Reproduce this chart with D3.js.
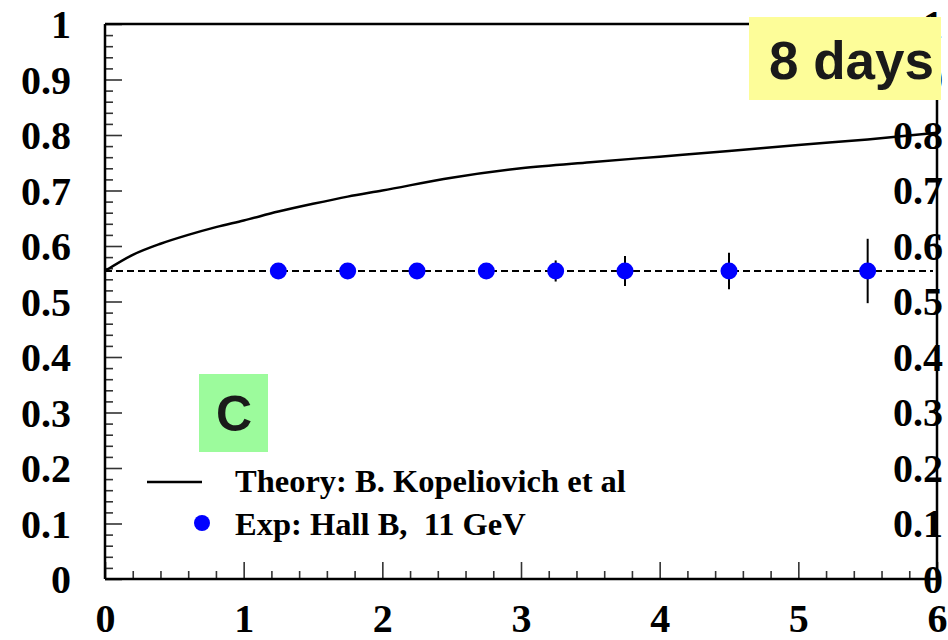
<!DOCTYPE html>
<html>
<head>
<meta charset="utf-8">
<script src="https://cdn.jsdelivr.net/npm/d3@7"></script>
<style>
  html, body { margin: 0; padding: 0; background: #fff; }
  svg { display: block; }
</style>
</head>
<body>
<svg id="chart" width="948" height="640"></svg>
<script>
// Axis ticks and labels
const xMajor = [0, 1, 2, 3, 4, 5, 6];
const xMinorStep = 0.2;
const yMajor = [0, 0.1, 0.2, 0.3, 0.4, 0.5, 0.6, 0.7, 0.8, 0.9, 1];
const yLabels = ["0", "0.1", "0.2", "0.3", "0.4", "0.5", "0.6", "0.7", "0.8", "0.9", "1"];
const yMinorStep = 0.02;

// Theory curve (B. Kopeliovich et al)
const theoryX = [0, 0.2, 0.4, 0.6, 0.8, 1.0, 1.25, 1.5, 1.75, 2.0, 2.5, 3.0, 3.5, 4.0, 4.5, 5.0, 5.5, 6.0];
const theoryY = [0.555, 0.584, 0.604, 0.620, 0.634, 0.646, 0.662, 0.676, 0.689, 0.700, 0.723, 0.740, 0.751, 0.761, 0.771, 0.782, 0.792, 0.804];

// Projected measurements, Hall B at 11 GeV
const expX = [1.25, 1.75, 2.25, 2.75, 3.25, 3.75, 4.5, 5.5];
const expY = [0.555, 0.555, 0.555, 0.555, 0.555, 0.555, 0.555, 0.555];
const expErr = [0.006, 0.008, 0.010, 0.013, 0.019, 0.027, 0.033, 0.058];

// Reference level drawn dashed
const refLevel = 0.555;

const legendLabels = ["Theory: B. Kopeliovich et al", "Exp: Hall B,  11 GeV"];
const tagText = "8 days";
const panelText = "C";

(function draw() {
  const svg = d3.select("#chart");
  const plotLeft = 105, plotRight = 937, plotTop = 24, plotBottom = 579;

  const x = d3.scaleLinear().domain([0, 6]).range([plotLeft, plotRight]);
  const y = d3.scaleLinear().domain([0, 1]).range([plotBottom, plotTop]);

  const serif = "'Liberation Serif', 'Times New Roman', serif";
  const sans = "'Liberation Sans', Arial, sans-serif";

  const xMinor = d3.range(0, 6 + 1e-9, xMinorStep).map(v => +v.toFixed(2))
    .filter(v => !xMajor.some(m => Math.abs(m - v) < 1e-6));
  const yMinor = d3.range(0, 1 + 1e-9, yMinorStep).map(v => +v.toFixed(2))
    .filter(v => !yMajor.some(m => Math.abs(m - v) < 1e-6));

  function styleTicks(g) {
    g.select(".domain").remove();
    g.selectAll(".tick line").attr("stroke", "#333").attr("stroke-width", 1.6);
  }

  // inward tick marks on the left axis
  svg.append("g").attr("transform", `translate(${plotLeft},0)`)
    .call(d3.axisLeft(y).tickValues(yMinor).tickSizeInner(-8).tickSizeOuter(0).tickFormat(""))
    .call(styleTicks);
  svg.append("g").attr("transform", `translate(${plotLeft},0)`)
    .call(d3.axisLeft(y).tickValues(yMajor).tickSizeInner(-17).tickSizeOuter(0).tickFormat(""))
    .call(styleTicks);

  // inward tick marks on the bottom axis
  svg.append("g").attr("transform", `translate(0,${plotBottom})`)
    .call(d3.axisBottom(x).tickValues(xMinor).tickSizeInner(-8).tickSizeOuter(0).tickFormat(""))
    .call(styleTicks);
  svg.append("g").attr("transform", `translate(0,${plotBottom})`)
    .call(d3.axisBottom(x).tickValues(xMajor).tickSizeInner(-17).tickSizeOuter(0).tickFormat(""))
    .call(styleTicks);

  // left labels
  const yLab = svg.append("g").attr("transform", `translate(${plotLeft},0)`)
    .call(d3.axisLeft(y).tickValues(yMajor).tickSize(0).tickPadding(34)
      .tickFormat((d, i) => yLabels[i]));
  yLab.select(".domain").remove();
  yLab.selectAll("text").attr("font-family", serif).attr("font-weight", "bold")
    .attr("font-size", 40).attr("fill", "#000").attr("dy", "0.34em");

  // bottom labels
  const xLab = svg.append("g").attr("transform", `translate(0,${plotBottom})`)
    .call(d3.axisBottom(x).tickValues(xMajor).tickSize(0).tickPadding(25).tickFormat(d3.format("d")));
  xLab.select(".domain").remove();
  xLab.selectAll("text").attr("font-family", serif).attr("font-weight", "bold")
    .attr("font-size", 40).attr("fill", "#000").attr("dy", "0.71em");

  // right-hand labels, repeating the left scale
  svg.append("g").selectAll("text").data(yMajor).join("text")
    .attr("x", 943).attr("y", d => y(d)).attr("dy", "0.34em")
    .attr("text-anchor", "end")
    .attr("font-family", serif).attr("font-weight", "bold").attr("font-size", 40)
    .attr("fill", "#000")
    .text((d, i) => yLabels[i]);

  // frame
  const frame = svg.append("g").attr("stroke", "#000").attr("stroke-width", 2.5).attr("fill", "none");
  frame.append("line").attr("x1", x(0)).attr("x2", x(0)).attr("y1", y(0)).attr("y2", y(1));
  frame.append("line").attr("x1", x(0)).attr("x2", x(6)).attr("y1", y(0)).attr("y2", y(0));
  frame.append("line").attr("x1", x(0)).attr("x2", x(6)).attr("y1", y(1)).attr("y2", y(1));
  frame.append("line").attr("x1", x(6)).attr("x2", x(6)).attr("y1", y(0)).attr("y2", y(1));

  // dashed reference level
  svg.append("line")
    .attr("x1", x(0)).attr("x2", x(6) - 4)
    .attr("y1", y(refLevel)).attr("y2", y(refLevel))
    .attr("stroke", "#000").attr("stroke-width", 2).attr("stroke-dasharray", "7,4");

  // theory curve
  const theory = theoryX.map((v, i) => [v, theoryY[i]]);
  svg.append("path").datum(theory)
    .attr("d", d3.line().x(d => x(d[0])).y(d => y(d[1])).curve(d3.curveMonotoneX))
    .attr("fill", "none").attr("stroke", "#000").attr("stroke-width", 2.5);

  // error bars and points
  const pts = expX.map((v, i) => ({ x: v, y: expY[i], e: expErr[i] }));
  svg.append("g").selectAll("line").data(pts).join("line")
    .attr("x1", d => x(d.x)).attr("x2", d => x(d.x))
    .attr("y1", d => y(d.y + d.e)).attr("y2", d => y(d.y - d.e))
    .attr("stroke", "#000").attr("stroke-width", 2);
  svg.append("g").selectAll("circle").data(pts).join("circle")
    .attr("cx", d => x(d.x)).attr("cy", d => y(d.y)).attr("r", 8.5)
    .attr("fill", "#0000ff");

  // panel letter
  svg.append("rect").attr("x", 199).attr("y", 374).attr("width", 69).attr("height", 78)
    .attr("fill", "#9cfb9c");
  svg.append("text").attr("x", 234).attr("y", 431).attr("text-anchor", "middle")
    .attr("font-family", sans).attr("font-weight", "bold").attr("font-size", 50)
    .attr("fill", "#1a1a1a").text(panelText);

  // legend
  const leg = svg.append("g");
  leg.append("line").attr("x1", 147).attr("x2", 202).attr("y1", 482).attr("y2", 482)
    .attr("stroke", "#000").attr("stroke-width", 2.5);
  leg.append("circle").attr("cx", 202).attr("cy", 523).attr("r", 8).attr("fill", "#0000ff");
  leg.selectAll("text").data(legendLabels).join("text")
    .attr("x", 235).attr("y", (d, i) => 492 + i * 43)
    .attr("font-family", serif).attr("font-weight", "bold").attr("font-size", 32.5)
    .attr("fill", "#000").style("white-space", "pre").text(d => d);

  // duration tag over the top-right corner
  svg.append("rect").attr("x", 749).attr("y", 17).attr("width", 192).attr("height", 83)
    .attr("fill", "#fdfd99");
  svg.append("text").attr("x", 769).attr("y", 79)
    .attr("font-family", sans).attr("font-weight", "bold").attr("font-size", 53)
    .attr("fill", "#1a1a1a").text(tagText);
})();
</script>
</body>
</html>
